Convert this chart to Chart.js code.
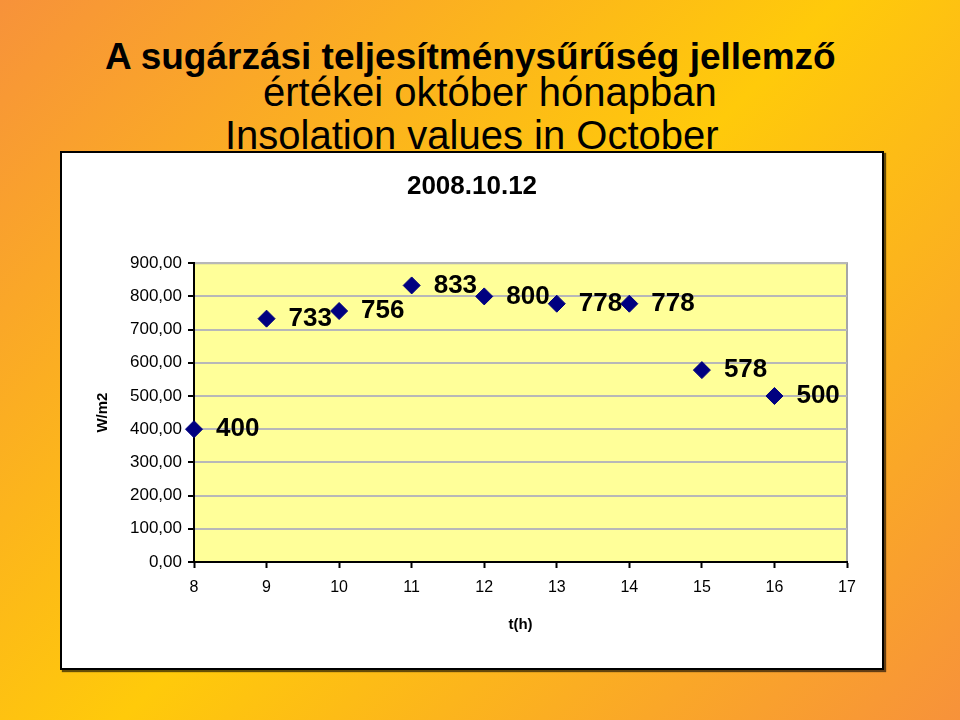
<!DOCTYPE html>
<html>
<head>
<meta charset="utf-8">
<script src="https://cdn.jsdelivr.net/npm/chart.js@4/dist/chart.umd.min.js"></script>
<style>
  html, body { margin:0; padding:0; }
  body { width:960px; height:720px; position:relative; overflow:hidden;
         background: linear-gradient(135deg, #F7923A 0%, #FFCA0A 50%, #F7923A 100%);
         font-family: "Liberation Sans", Arial, sans-serif; }
  .t { position:absolute; white-space:nowrap; line-height:1; color:#000; }
  #t1 { left:105px; top:38px; font-size:37px; font-weight:bold; }
  #t2 { left:263px; top:72px; font-size:40px; }
  #t3 { left:225px; top:115px; font-size:40px; }
  #box { position:absolute; left:60px; top:151px; width:820px; height:515px;
         border:2px solid #000; background:#fff; box-shadow: 2px 2px 1px rgba(0,0,0,0.6); }
  #box canvas { position:absolute; left:0; top:0; }
</style>
</head>
<body>
<div class="t" id="t1">A sugárzási teljesítménysűrűség jellemző</div>
<div class="t" id="t2">értékei október hónapban</div>
<div class="t" id="t3">Insolation values in October</div>
<div id="box"><canvas id="c" width="820" height="515"></canvas></div>
<script>
const hours = [8, 9, 10, 11, 12, 13, 14, 15, 16];
const irradiance = [400, 733, 756, 833, 800, 778, 778, 578, 500];
const yTicks = [0, 100, 200, 300, 400, 500, 600, 700, 800, 900];
const xTicks = [8, 9, 10, 11, 12, 13, 14, 15, 16, 17];
const chartTitle = "2008.10.12";
const yTitle = "W/m2";
const xTitle = "t(h)";

const plotBg = {
  id: 'plotBg',
  beforeDraw(chart) {
    const {ctx, chartArea: a} = chart;
    ctx.save();
    ctx.fillStyle = '#FFFF99';
    ctx.fillRect(a.left, a.top, a.right - a.left, a.bottom - a.top);
    ctx.strokeStyle = '#A6A6A6';
    ctx.lineWidth = 2;
    ctx.strokeRect(a.left, a.top, a.right - a.left, a.bottom - a.top);
    ctx.restore();
  }
};
const valueLabels = {
  id: 'valueLabels',
  afterDatasetsDraw(chart) {
    const {ctx} = chart;
    const meta = chart.getDatasetMeta(0);
    ctx.save();
    ctx.font = 'bold 26px "Liberation Sans", Arial, sans-serif';
    ctx.fillStyle = '#000';
    ctx.textAlign = 'left';
    ctx.textBaseline = 'middle';
    meta.data.forEach((el, i) => {
      ctx.fillText(String(chart.data.datasets[0].data[i].y), el.x + 22, el.y);
    });
    ctx.restore();
  }
};

new Chart(document.getElementById('c'), {
  type: 'scatter',
  data: {
    datasets: [{
      data: hours.map((h, i) => ({x: h, y: irradiance[i]})),
      pointStyle: 'rectRot',
      pointRadius: 8.5,
      pointHoverRadius: 8.5,
      backgroundColor: '#000080',
      borderColor: '#000080',
      borderWidth: 1,
      showLine: false,
      clip: false
    }]
  },
  options: {
    responsive: false,
    animation: false,
    events: [],
    layout: { padding: { left: 35, right: 35, top: 0, bottom: 0 } },
    plugins: {
      legend: { display: false },
      tooltip: { enabled: false },
      title: {
        display: true, text: chartTitle, color: '#000',
        font: { family: '"Liberation Sans", Arial, sans-serif', size: 26, weight: 'bold', lineHeight: 1.2 },
        padding: { top: 18, bottom: 61 }
      }
    },
    scales: {
      x: {
        type: 'linear', min: 8, max: 17,
        afterBuildTicks: s => { s.ticks = xTicks.map(v => ({value: v})); },
        afterFit: s => { s.height = 106; },
        ticks: { color: '#000', padding: 10, font: { family: '"Liberation Sans", Arial, sans-serif', size: 16 } },
        grid: { drawOnChartArea: false, drawTicks: true, tickLength: 6, tickColor: '#000', tickWidth: 2 },
        border: { color: '#000', width: 2 },
        title: { display: true, text: xTitle, color: '#000',
          font: { family: '"Liberation Sans", Arial, sans-serif', size: 15, weight: 'bold', lineHeight: 1.2 },
          padding: { top: 0, bottom: 34 } }
      },
      y: {
        type: 'linear', min: 0, max: 900,
        afterBuildTicks: s => { s.ticks = yTicks.map(v => ({value: v})); },
        afterFit: s => { s.width = 97; },
        ticks: { color: '#000', padding: 6,
          font: { family: '"Liberation Sans", Arial, sans-serif', size: 17 },
          callback: v => v.toFixed(2).replace('.', ',') },
        grid: { color: '#B8B8B8', lineWidth: 2, tickLength: 6, tickColor: '#000', tickWidth: 2 },
        border: { color: '#000', width: 2 },
        title: { display: true, text: yTitle, color: '#000',
          font: { family: '"Liberation Sans", Arial, sans-serif', size: 15, weight: 'bold', lineHeight: 1.2 },
          padding: { top: -3, bottom: 0 } }
      }
    }
  },
  plugins: [plotBg, valueLabels]
});
</script>
</body>
</html>
